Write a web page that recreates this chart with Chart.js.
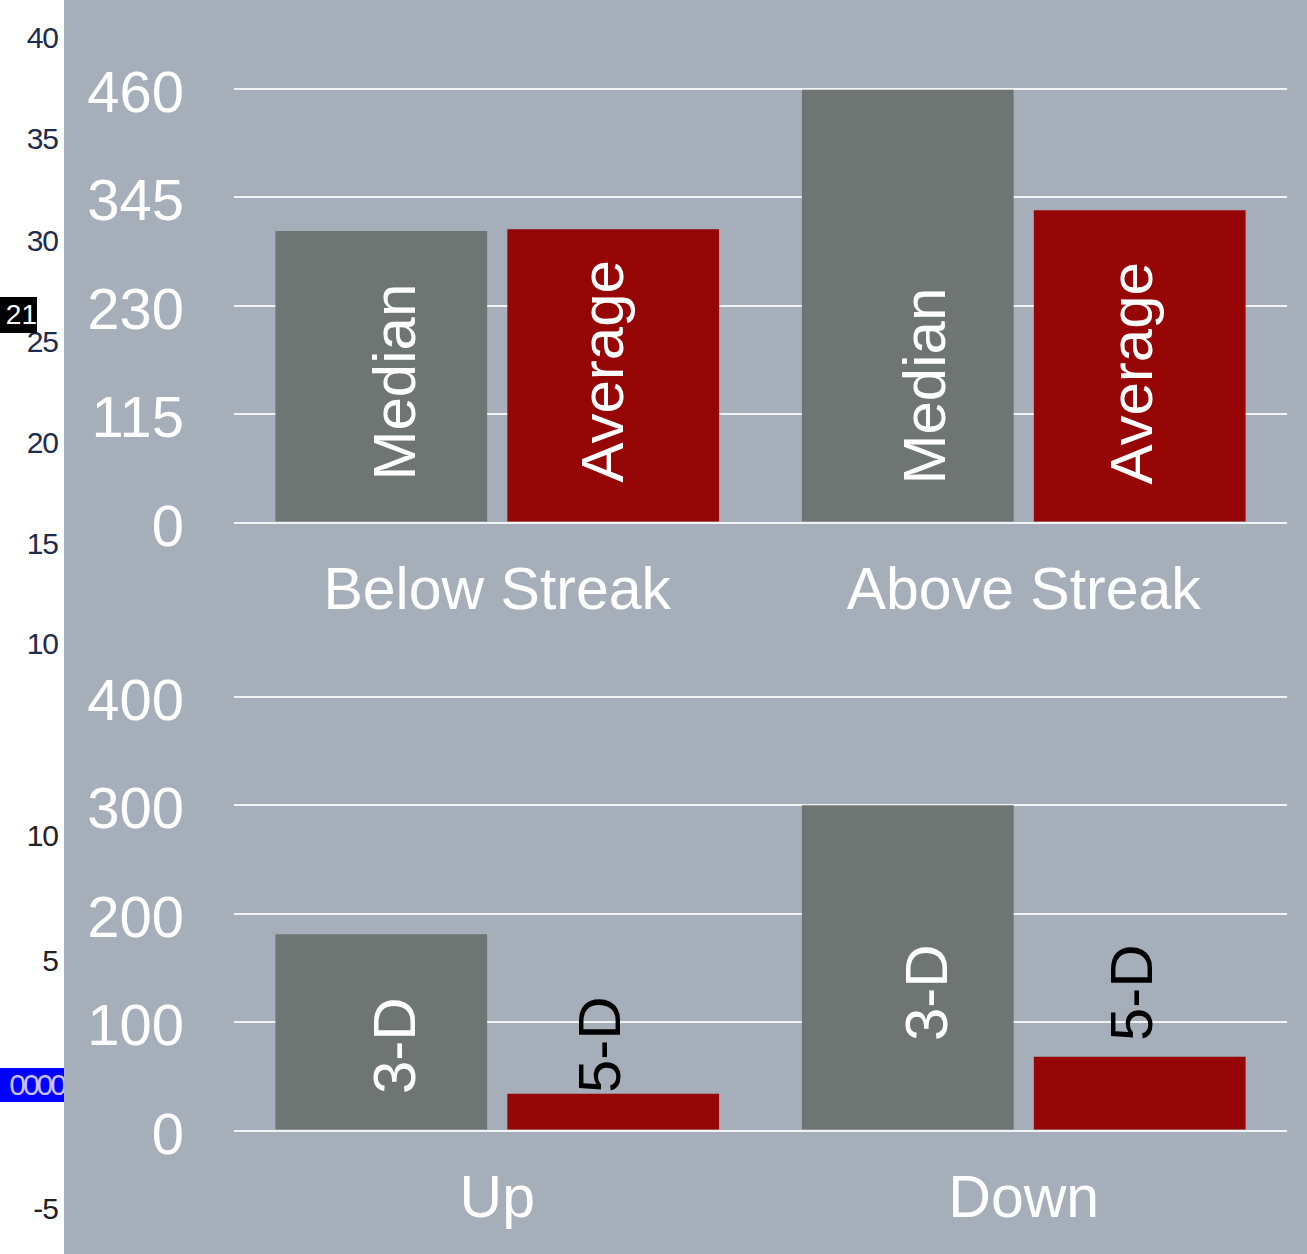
<!DOCTYPE html>
<html>
<head>
<meta charset="utf-8">
<script src="https://cdn.jsdelivr.net/npm/chart.js@4"></script>
<style>
  html, body { margin:0; padding:0; background:#ffffff; width:1307px; height:1254px; overflow:hidden; }
  #panel { position:absolute; left:64px; top:0; width:1243px; height:1254px; background:#a6afb9; }
  canvas { position:absolute; left:64px; }
  #c1 { top:0; }
  #c2 { top:608px; }
  .lt { position:absolute; font-family:"Liberation Sans", Arial, sans-serif; font-size:30px; color:#1d2b4c; line-height:1; transform:translateY(-50%); letter-spacing:-1px; }
  .box21 { position:absolute; left:0; top:297px; width:37px; height:36px; background:#000; color:#fff; font-family:"Liberation Sans", Arial, sans-serif; font-size:28px; line-height:36px; text-align:right; overflow:hidden; }
  .box0 { position:absolute; left:0; top:1068px; width:64px; height:34px; background:#0000ff; color:#c8c0ff; font-family:"Liberation Sans", Arial, sans-serif; font-size:30px; line-height:34px; text-align:right; overflow:hidden; letter-spacing:-3px; white-space:nowrap; }
</style>
</head>
<body>
<div id="panel"></div>
<div id="strip"></div>
<canvas id="c1" width="1243" height="627"></canvas>
<canvas id="c2" width="1243" height="627"></canvas>
<script>
// ---- data ----
const topCategories = ['Below Streak', 'Above Streak'];
const topSeriesNames = ['Median', 'Average'];
const topMedian = [309, 459];
const topAverage = [311, 331];
const topTicks = [0, 115, 230, 345, 460];

const bottomCategories = ['Up', 'Down'];
const bottomSeriesNames = ['3-D', '5-D'];
const bottom3D = [181, 300];
const bottom5D = [34, 68];
const bottomTicks = [0, 100, 200, 300, 400];

// stray left-edge axis labels visible in the picture
const stripTicksTop = ['40', '35', '30', '25', '20', '15', '10'];
const stripTicksBottom = ['10', '5', '-5'];
const stripBadgeA = '21';
const stripBadgeB = '0000';

// ---- left strip ----
(function(){
  const strip = document.getElementById('strip');
  const topY = [38, 139, 241, 342, 443, 544, 644];
  stripTicksTop.forEach((t, i) => {
    const d = document.createElement('div');
    d.className = 'lt'; d.textContent = t; d.style.top = topY[i] + 'px';
    d.style.right = (1307 - 58) + 'px';
    strip.appendChild(d);
  });
  const botY = [836, 961, 1209];
  stripTicksBottom.forEach((t, i) => {
    const d = document.createElement('div');
    d.className = 'lt'; d.textContent = t; d.style.top = botY[i] + 'px';
    d.style.right = (1307 - 58) + 'px';
    d.style.color = '#222';
    strip.appendChild(d);
  });
  const b1 = document.createElement('div'); b1.className = 'box21'; b1.textContent = stripBadgeA; strip.appendChild(b1);
  const b2 = document.createElement('div'); b2.className = 'box0'; b2.textContent = stripBadgeB; strip.appendChild(b2);
})();

// ---- chart helpers ----
const FONT = '"Liberation Sans", Arial, Helvetica, sans-serif';
const GREY = '#6f7572';
const RED = '#960606';

const barLabels = {
  id: 'barLabels',
  afterDatasetsDraw(chart, args, opts) {
    const ctx = chart.ctx;
    const base = chart.scales.y.getPixelForValue(0);
    chart.data.datasets.forEach((ds, di) => {
      const meta = chart.getDatasetMeta(di);
      meta.data.forEach((bar, i) => {
        const st = opts.place[di][i];
        ctx.save();
        ctx.translate(bar.x + st[0], base - st[1]);
        ctx.rotate(-Math.PI / 2);
        ctx.font = '60px ' + FONT;
        ctx.fillStyle = opts.colors[di];
        ctx.textAlign = 'left';
        ctx.textBaseline = 'alphabetic';
        ctx.fillText(ds.label, 0, 0);
        ctx.restore();
      });
    });
  }
};

function makeChart(id, cats, names, s1, s2, ticks, labelPlace, labelColors) {
  const maxV = ticks[ticks.length - 1];
  return new Chart(document.getElementById(id), {
    type: 'bar',
    data: {
      labels: cats,
      datasets: [
        { label: names[0], data: s1, backgroundColor: GREY, borderWidth: 0 },
        { label: names[1], data: s2, backgroundColor: RED, borderWidth: 0 }
      ]
    },
    options: {
      responsive: false,
      animation: false,
      devicePixelRatio: 1,
      categoryPercentage: 0.881,
      barPercentage: 0.913,
      layout: { padding: { top: 88.7, right: 20, bottom: 0, left: 0 } },
      plugins: {
        legend: { display: false },
        tooltip: { enabled: false },
        barLabels: { place: labelPlace, colors: labelColors }
      },
      scales: {
        x: {
          grid: { display: false, drawTicks: false },
          border: { display: false },
          ticks: { color: '#ffffff', font: { family: FONT, size: 59 }, padding: 35 },
          afterFit(s) { s.height = 104.5; }
        },
        y: {
          min: 0, max: maxV,
          grid: { color: 'rgba(255,255,255,0.85)', lineWidth: 2, drawTicks: false },
          border: { display: false },
          ticks: { color: '#ffffff', font: { family: FONT, size: 58 }, padding: 50, labelOffset: 7 },
          afterBuildTicks(s) { s.ticks = ticks.map(v => ({ value: v })); },
          afterFit(s) { s.width = 170; }
        }
      }
    },
    plugins: [barLabels]
  });
}

makeChart('c1', topCategories, topSeriesNames, topMedian, topAverage, topTicks,
  [[[34, 42], [37, 38]], [[10, 40], [12, 38]]],
  ['#ffffff', '#ffffff']);
makeChart('c2', bottomCategories, bottomSeriesNames, bottom3D, bottom5D, bottomTicks,
  [[[34, 36.5], [39, 89.5]], [[7, 37.5], [12, 89.5]]],
  ['#ffffff', '#000000']);
</script>
</body>
</html>
